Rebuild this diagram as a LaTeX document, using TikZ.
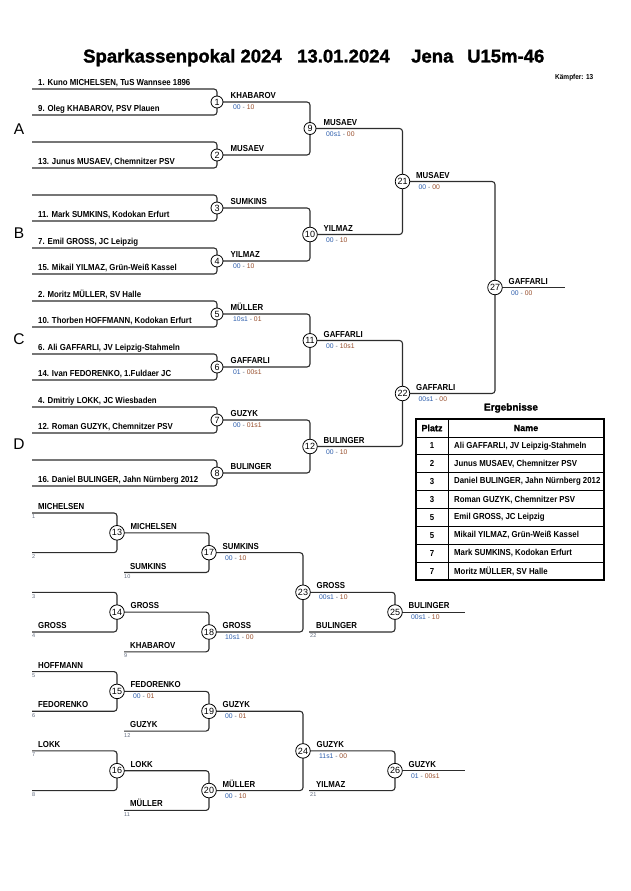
\documentclass[tikz,border=0pt]{standalone}
\usepackage{fontspec}
\setmainfont{Liberation Sans}
\newfontfamily\namefont{Liberation Sans}[FakeStretch=0.9]
\newfontfamily\titlefont{Liberation Sans}[BoldFeatures={FakeBold=1.5}]
\usetikzlibrary{backgrounds,calc}
\definecolor{linec}{RGB}{45,45,45}
\definecolor{scb}{RGB}{40,90,170}
\definecolor{scr}{RGB}{150,75,40}
\definecolor{smc}{RGB}{95,105,125}
\newcommand\sco[2]{\textcolor{scb}{#1}~\textcolor{smc}{-}~\textcolor{scr}{#2}}
\tikzset{
  br/.style={draw=linec, line width=1.1pt, rounded corners=3pt},
  circ/.style={circle, draw=black, fill=white, line width=0.8pt, minimum size=12pt, inner sep=1pt, font=\fontsize{9}{9}\selectfont},
  nm/.style={anchor=base west, inner sep=0pt, font=\namefont\bfseries\fontsize{8.7}{10}\selectfont},
  sc/.style={anchor=base west, inner sep=0pt, font=\fontsize{6.8}{8}\selectfont},
  smn/.style={anchor=north west, inner sep=0pt, text=smc, font=\fontsize{5.5}{6}\selectfont},
  grp/.style={anchor=center, inner sep=0pt, font=\fontsize{15.5}{16}\selectfont},
  ttl/.style={anchor=base west, inner sep=0pt, font=\titlefont\bfseries\fontsize{18.5}{20}\selectfont},
  cell/.style={anchor=center, inner sep=0pt, font=\namefont\bfseries\fontsize{8.7}{10}\selectfont},
  cellw/.style={anchor=west, inner sep=0pt, font=\namefont\bfseries\fontsize{8.7}{10}\selectfont},
  hdr/.style={anchor=center, inner sep=0pt, font=\titlefont\bfseries\fontsize{9}{10}\selectfont},
}
\newcommand\win[2]{\node[nm] at ($(#1.center)+(13.5,-3.5)$) {#2};}
\newcommand\scr[3]{\node[sc] at ($(#1.center)+(16,7.5)$) {\sco{#2}{#3}};}
\begin{document}
\begin{tikzpicture}[x=1pt,y=-1pt]
\useasboundingbox (0,0) rectangle (630,891);
% title
\node[ttl] (t1) at (83,62.5) {Sparkassenpokal 2024};
\node[ttl] (t2) at (297,62.5) {13.01.2024};
\node[ttl] (t3) at (411,62.5) {Jena};
\node[ttl] (t4) at (467,62.5) {U15m-46};
\node[anchor=base west, inner sep=0pt, font=\namefont\bfseries\fontsize{7.2}{8}\selectfont] (kf) at (555,79) {Kämpfer: 13};
% group letters
\node[grp] (gA) at (19,129) {A};
\node[grp] (gB) at (19,233) {B};
\node[grp] (gC) at (19,339) {C};
\node[grp] (gD) at (19,444) {D};
% ---------- main bracket ----------
\foreach \k/\y in {1/89,2/142,3/195,4/248,5/301,6/354,7/407,8/460}{
  \coordinate (a\k) at (32,\y);
  \coordinate (b\k) at (32,\y+26);
  \node[circ] (c\k) at (217,\y+13) {\k};
}
\node[circ] (c9) at (310,128.5) {9};
\node[circ] (c10) at (310,234.5) {10};
\node[circ] (c11) at (310,340.5) {11};
\node[circ] (c12) at (310,446.5) {12};
\node[circ] (c21) at (402.5,181.5) {21};
\node[circ] (c22) at (402.5,393.5) {22};
\node[circ] (c27) at (495,287.5) {27};
\coordinate (e27) at (565,287.5);
% ---------- repechage ----------
\foreach \k/\y in {0/513,1/552.65,2/592.3,3/631.95,4/671.6,5/711.25,6/750.9,7/790.55}{
  \coordinate (r\k) at (32,\y);
}
\node[circ] (c13) at (117,532.8) {13};
\node[circ] (c14) at (117,612.1) {14};
\node[circ] (c15) at (117,691.4) {15};
\node[circ] (c16) at (117,770.7) {16};
\node[circ] (c17) at (209,552.65) {17};
\node[circ] (c18) at (209,631.95) {18};
\node[circ] (c19) at (209,711.25) {19};
\node[circ] (c20) at (209,790.55) {20};
\node[circ] (c23) at (303,592.3) {23};
\node[circ] (c24) at (303,750.9) {24};
\node[circ] (c25) at (395,612.1) {25};
\node[circ] (c26) at (395,770.7) {26};
\coordinate (f10) at (124,572.5);
\coordinate (f9) at (124,651.8);
\coordinate (f12) at (124,731.1);
\coordinate (f11) at (124,810.4);
\coordinate (f22) at (309,631.95);
\coordinate (f21) at (309,790.55);
\coordinate (e25) at (465,612.1);
\coordinate (e26) at (465,770.7);
% ---------- connectors ----------
\begin{scope}[on background layer]
\foreach \k in {1,...,8}{\draw[br] (a\k) -| (c\k.center) |- (b\k);}
\draw[br] (c1.center) -| (c9.center) |- (c2.center);
\draw[br] (c3.center) -| (c10.center) |- (c4.center);
\draw[br] (c5.center) -| (c11.center) |- (c6.center);
\draw[br] (c7.center) -| (c12.center) |- (c8.center);
\draw[br] (c9.center) -| (c21.center) |- (c10.center);
\draw[br] (c11.center) -| (c22.center) |- (c12.center);
\draw[br] (c21.center) -| (c27.center) |- (c22.center);
\draw[br] (c27.center) -- (e27);
\draw[br] (r0) -| (c13.center) |- (r1);
\draw[br] (r2) -| (c14.center) |- (r3);
\draw[br] (r4) -| (c15.center) |- (r5);
\draw[br] (r6) -| (c16.center) |- (r7);
\draw[br] (c13.center) -| (c17.center) |- (f10);
\draw[br] (c14.center) -| (c18.center) |- (f9);
\draw[br] (c15.center) -| (c19.center) |- (f12);
\draw[br] (c16.center) -| (c20.center) |- (f11);
\draw[br] (c17.center) -| (c23.center) |- (c18.center);
\draw[br] (c19.center) -| (c24.center) |- (c20.center);
\draw[br] (c23.center) -| (c25.center) |- (f22);
\draw[br] (c24.center) -| (c26.center) |- (f21);
\draw[br] (c25.center) -- (e25);
\draw[br] (c26.center) -- (e26);
\end{scope}
% ---------- round 1 entrants ----------
\node[nm] at ($(a1)+(6,-3.5)$) {1. Kuno MICHELSEN, TuS Wannsee 1896};
\node[nm] at ($(b1)+(6,-3.5)$) {9. Oleg KHABAROV, PSV Plauen};
\node[nm] at ($(b2)+(6,-3.5)$) {13. Junus MUSAEV, Chemnitzer PSV};
\node[nm] at ($(b3)+(6,-3.5)$) {11. Mark SUMKINS, Kodokan Erfurt};
\node[nm] at ($(a4)+(6,-3.5)$) {7. Emil GROSS, JC Leipzig};
\node[nm] at ($(b4)+(6,-3.5)$) {15. Mikail YILMAZ, Grün-Weiß Kassel};
\node[nm] at ($(a5)+(6,-3.5)$) {2. Moritz MÜLLER, SV Halle};
\node[nm] at ($(b5)+(6,-3.5)$) {10. Thorben HOFFMANN, Kodokan Erfurt};
\node[nm] at ($(a6)+(6,-3.5)$) {6. Ali GAFFARLI, JV Leipzig-Stahmeln};
\node[nm] at ($(b6)+(6,-3.5)$) {14. Ivan FEDORENKO, 1.Fuldaer JC};
\node[nm] at ($(a7)+(6,-3.5)$) {4. Dmitriy LOKK, JC Wiesbaden};
\node[nm] at ($(b7)+(6,-3.5)$) {12. Roman GUZYK, Chemnitzer PSV};
\node[nm] at ($(b8)+(6,-3.5)$) {16. Daniel BULINGER, Jahn Nürnberg 2012};
% ---------- winners main ----------
\win{c1}{KHABAROV}\scr{c1}{00}{10}
\win{c2}{MUSAEV}
\win{c3}{SUMKINS}
\win{c4}{YILMAZ}\scr{c4}{00}{10}
\win{c5}{MÜLLER}\scr{c5}{10s1}{01}
\win{c6}{GAFFARLI}\scr{c6}{01}{00s1}
\win{c7}{GUZYK}\scr{c7}{00}{01s1}
\win{c8}{BULINGER}
\win{c9}{MUSAEV}\scr{c9}{00s1}{00}
\win{c10}{YILMAZ}\scr{c10}{00}{10}
\win{c11}{GAFFARLI}\scr{c11}{00}{10s1}
\win{c12}{BULINGER}\scr{c12}{00}{10}
\win{c21}{MUSAEV}\scr{c21}{00}{00}
\win{c22}{GAFFARLI}\scr{c22}{00s1}{00}
\win{c27}{GAFFARLI}\scr{c27}{00}{00}
% ---------- repechage entrants ----------
\node[nm] at ($(r0)+(6,-3.5)$) {MICHELSEN};
\node[nm] at ($(r3)+(6,-3.5)$) {GROSS};
\node[nm] at ($(r4)+(6,-3.5)$) {HOFFMANN};
\node[nm] at ($(r5)+(6,-3.5)$) {FEDORENKO};
\node[nm] at ($(r6)+(6,-3.5)$) {LOKK};
\foreach \k/\n in {0/1,1/2,2/3,3/4,4/5,5/6,6/7,7/8}{
  \node[smn] at ($(r\k)+(0,2)$) {\n};
}
\node[nm] at ($(f10)+(6,-3.5)$) {SUMKINS};
\node[smn] at ($(f10)+(0,2)$) {10};
\node[nm] at ($(f9)+(6,-3.5)$) {KHABAROV};
\node[smn] at ($(f9)+(0,2)$) {9};
\node[nm] at ($(f12)+(6,-3.5)$) {GUZYK};
\node[smn] at ($(f12)+(0,2)$) {12};
\node[nm] at ($(f11)+(6,-3.5)$) {MÜLLER};
\node[smn] at ($(f11)+(0,2)$) {11};
\node[nm] at ($(f22)+(7,-3.5)$) {BULINGER};
\node[smn] at ($(f22)+(1,2)$) {22};
\node[nm] at ($(f21)+(7,-3.5)$) {YILMAZ};
\node[smn] at ($(f21)+(1,2)$) {21};
% ---------- winners repechage ----------
\win{c13}{MICHELSEN}
\win{c14}{GROSS}
\win{c15}{FEDORENKO}\scr{c15}{00}{01}
\win{c16}{LOKK}
\win{c17}{SUMKINS}\scr{c17}{00}{10}
\win{c18}{GROSS}\scr{c18}{10s1}{00}
\win{c19}{GUZYK}\scr{c19}{00}{01}
\win{c20}{MÜLLER}\scr{c20}{00}{10}
\win{c23}{GROSS}\scr{c23}{00s1}{10}
\win{c24}{GUZYK}\scr{c24}{11s1}{00}
\win{c25}{BULINGER}\scr{c25}{00s1}{10}
\win{c26}{GUZYK}\scr{c26}{01}{00s1}
% ---------- results table ----------
\node[anchor=center, inner sep=0pt, font=\titlefont\bfseries\fontsize{10}{11}\selectfont] (erg) at (511,408) {Ergebnisse};
\foreach \i in {1,...,8}{\draw[line width=0.8pt] (416,419+17.9*\i) -- (604,419+17.9*\i);}
\draw[line width=0.8pt] (448,419) -- (448,580.1);
\draw[line width=1.6pt] (416,419) rectangle (604,580.1);
\node[hdr] at (432,428) {Platz};
\node[hdr] at (526,428) {Name};
\foreach \i/\p/\n in {1/1/{Ali GAFFARLI, JV Leipzig-Stahmeln},
  2/2/{Junus MUSAEV, Chemnitzer PSV},
  3/3/{Daniel BULINGER, Jahn Nürnberg 2012},
  4/3/{Roman GUZYK, Chemnitzer PSV},
  5/5/{Emil GROSS, JC Leipzig},
  6/5/{Mikail YILMAZ, Grün-Weiß Kassel},
  7/7/{Mark SUMKINS, Kodokan Erfurt},
  8/7/{Moritz MÜLLER, SV Halle}}{
  \node[cell] at (432,419+17.9*\i+9) {\p};
  \node[cellw] at (454,419+17.9*\i+9) {\n};
}
\end{tikzpicture}
\end{document}
